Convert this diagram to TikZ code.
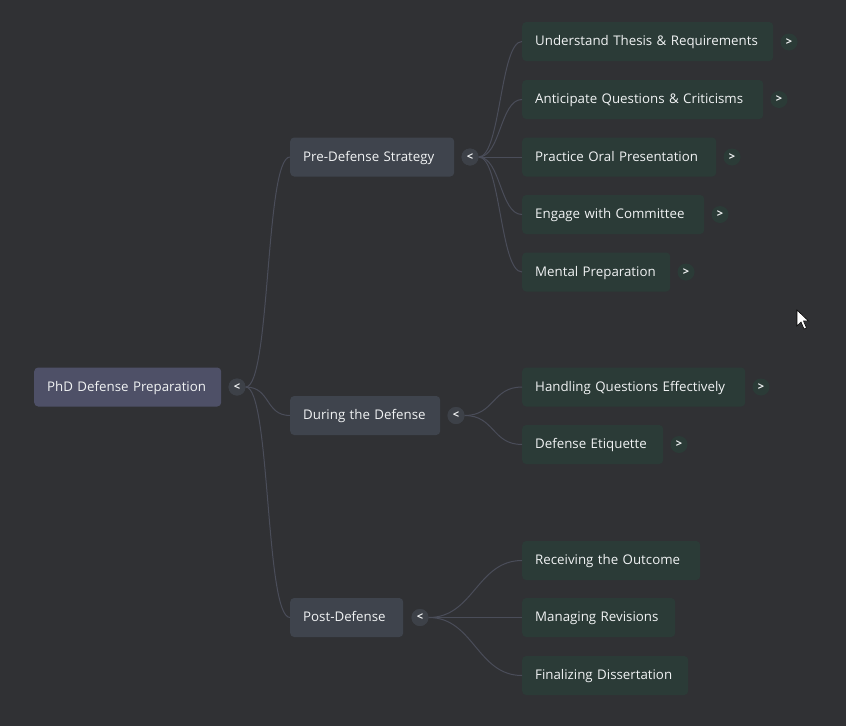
\documentclass[tikz,border=0pt]{standalone}
\usepackage{fontspec}
\setmainfont{Open Sans}
\hbadness=10000 \hfuzz=100pt
\definecolor{bg}{HTML}{303134}
\definecolor{rootfill}{HTML}{4E5067}
\definecolor{midfill}{HTML}{3F444D}
\definecolor{leaffill}{HTML}{2B3B37}
\definecolor{togfill}{HTML}{3D4148}
\definecolor{leaftog}{HTML}{2B3B37}
\definecolor{linec}{HTML}{4A4D59}
\definecolor{txt}{HTML}{F1F3F4}
\tikzset{
  box/.style={rounded corners=4pt, minimum height=39pt, inner xsep=13pt, inner ysep=0pt, anchor=west, text=txt, font=\fontsize{13.3pt}{15pt}\selectfont, align=left, text height=10pt, text depth=2pt},
  rootbox/.style={box, fill=rootfill},
  midbox/.style={box, fill=midfill},
  leafbox/.style={box, fill=leaffill},
  tog/.style={circle, fill=togfill, minimum size=17pt, inner sep=0pt, text=txt, font=\fontsize{11pt}{11pt}\selectfont\bfseries},
  ltog/.style={tog, fill=leaftog},
  conn/.style={draw=linec, line width=1pt},
}
\begin{document}
\begin{tikzpicture}[x=1pt,y=-1pt]
\useasboundingbox (0,0) rectangle (846,726);
\fill[bg] (0,0) rectangle (846,726);

% root
\node[rootbox, text width=161pt] (root) at (34,387) {\mbox{PhD Defense Preparation}};
\node[tog] (troot) at (237,387) {<};

% level 1
\node[midbox, text width=138pt] (pre) at (290,157) {\mbox{Pre-Defense Strategy}};
\node[tog] (tpre) at (470,157) {<};
\node[midbox, text width=124pt] (dur) at (290,415.5) {\mbox{During the Defense}};
\node[tog] (tdur) at (456,415.5) {<};
\node[midbox, text width=87pt] (post) at (290,617.5) {\mbox{Post-Defense}};
\node[tog] (tpost) at (420,617.5) {<};

% leaves
\node[leafbox, text width=225pt] (l1) at (522,41.5) {\mbox{Understand Thesis \& Requirements}};
\node[ltog] (t1) at (789,42) {>};
\node[leafbox, text width=215pt] (l2) at (522,99.5) {\mbox{Anticipate Questions \& Criticisms}};
\node[ltog] (t2) at (779,99.5) {>};
\node[leafbox, text width=168pt] (l3) at (522,157) {\mbox{Practice Oral Presentation}};
\node[ltog] (t3) at (732,157) {>};
\node[leafbox, text width=156pt] (l4) at (522,214.5) {\mbox{Engage with Committee}};
\node[ltog] (t4) at (720,214.5) {>};
\node[leafbox, text width=122pt] (l5) at (522,272) {\mbox{Mental Preparation}};
\node[ltog] (t5) at (686,272) {>};
\node[leafbox, text width=197pt] (l6) at (522,387) {\mbox{Handling Questions Effectively}};
\node[ltog] (t6) at (761,387) {>};
\node[leafbox, text width=115pt] (l7) at (522,444.5) {\mbox{Defense Etiquette}};
\node[ltog] (t7) at (679,444.5) {>};
\node[leafbox, text width=152pt] (l8) at (522,560.5) {\mbox{Receiving the Outcome}};
\node[leafbox, text width=127pt] (l9) at (522,617.5) {\mbox{Managing Revisions}};
\node[leafbox, text width=140pt] (l10) at (522,675.5) {\mbox{Finalizing Dissertation}};

% connectors
\begin{scope}[conn]
\foreach \c in {pre,dur,post}
  \draw (troot.east) .. controls +(25,0) and +(-25,0) .. (\c.west);
\foreach \c in {l1,l2,l3,l4,l5}
  \draw (tpre.east) .. controls +(22,0) and +(-22,0) .. (\c.west);
\foreach \c in {l6,l7}
  \draw (tdur.east) .. controls +(30,0) and +(-30,0) .. (\c.west);
\foreach \c in {l8,l9,l10}
  \draw (tpost.east) .. controls +(45,0) and +(-45,0) .. (\c.west);
\end{scope}
% redraw toggles on top
\foreach \t in {troot,tpre,tdur,tpost}
  \node[tog] at (\t) {<};

% mouse cursor
\filldraw[fill=white, draw=black, line width=0.6pt] (797,310) -- (797,326) -- (801,322) -- (804,329) -- (806.5,328) -- (803.5,321) -- (808.5,321) -- cycle;
\end{tikzpicture}
\end{document}
